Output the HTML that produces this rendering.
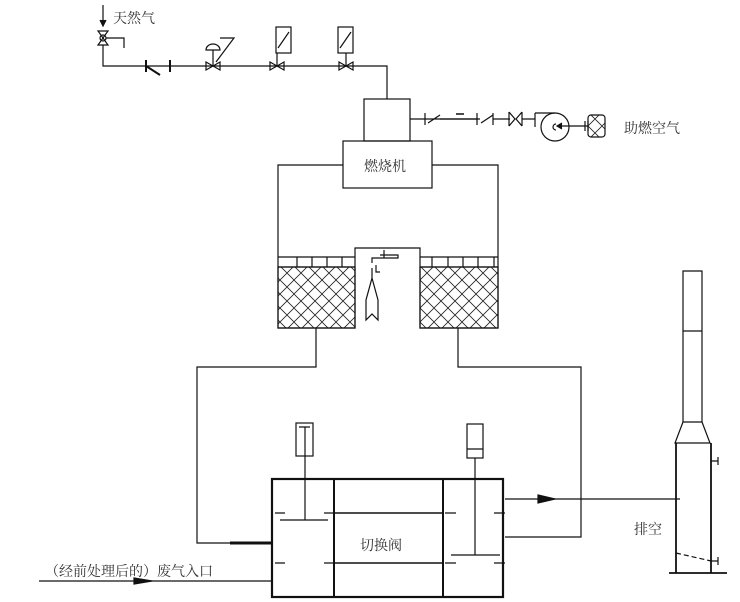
<!DOCTYPE html>
<html><head><meta charset="utf-8"><style>html,body{margin:0;padding:0;background:#fff}svg{display:block}</style></head>
<body>
<svg width="740" height="602" viewBox="0 0 740 602" xmlns="http://www.w3.org/2000/svg" font-family="Liberation Serif, Noto Serif CJK SC, serif">
<defs>
<pattern id="h" width="14" height="14" patternUnits="userSpaceOnUse">
<path d="M0 0L14 14M14 0L0 14" stroke="#222" stroke-width="0.8" fill="none"/>
</pattern>
</defs>
<g stroke="#111" fill="none" stroke-width="1.2">
<path d="M103 5V26"/><path d="M100 20L103 26L106 20" fill="#111"/>
<path d="M98 31L108 31L98 45L108 45Z"/><circle cx="103" cy="38" r="3"/>
<path d="M106 38H124V48"/>
<path d="M103 45V66H387V99"/>
<path d="M146 60V72M170 60V72M146 66L160 75" stroke-width="2"/>
<path d="M206 62L220 70V62L206 70Z"/>
<path d="M213 66V50M206 50A7 6 0 0 1 220 50Z M220 38H234L216 62"/>
<path d="M270 62L284 70V62L270 70Z M277 66V53"/>
<rect x="276" y="27" width="15" height="26"/><path d="M278 48L289 32"/>
<path d="M339 62L353 70V62L339 70Z M346 66V53"/>
<rect x="338" y="27" width="15" height="26"/><path d="M340 48L351 32"/>
<rect x="364" y="99" width="46" height="42"/>
<rect x="343" y="141" width="89" height="47"/>
<path d="M410 119H480M425 113V125M428 123L440 115"/>
<path d="M440 119H478M477 113V125M481 123L493 115M493 113V125"/>
<path d="M456 114H464" stroke-width="1.5"/>
<path d="M493 119H510M509 112V126M522 112V126M509 112L515 119L509 126M522 112L516 119L522 126M522 119H535"/>
<path d="M535 113V127M535 113H555"/>
<circle cx="555" cy="127" r="14"/>
<path d="M556 124A3 3 0 1 0 556 130"/>
<path d="M573 126H557M562 123L557 126L562 129" fill="#111"/>
<path d="M585 121V131M588 121V131M573 126H588"/>
<rect x="588" y="115" width="17" height="22" rx="3" fill="url(#h)"/>
<path d="M343 165H278V328H355V248H420V328H498V165H432"/>
<rect x="278" y="267" width="77" height="61" fill="url(#h)"/>
<rect x="420" y="267" width="78" height="61" fill="url(#h)"/>
<path d="M278 257H355M420 257H498M278 267H355M420 267H498"/>
<path d="M297 257V267M312 257V267M327 257V267M342 257V267M432 257V267M448 257V267M463 257V267M478 257V267M494 257V267"/>
<path d="M384 250V258H372V263M380 255H398V258H380M376 265V272H380M372 268V278L366 300V320L372 314L378 320V300L372 278"/>
<path d="M316 328V367H197V543H230"/>
<path d="M230 543H272" stroke-width="3"/>
<path d="M458 328V367H581V537H505"/>
<rect x="272" y="479" width="231" height="118" stroke-width="2.2"/>
<path d="M334 479V597M443 479V597" stroke-width="2"/>
<path d="M334 513H443M334 563H443" stroke-width="1.5"/>
<path d="M275 513H285M324 513H334M275 563H285M324 563H334M445 513H456M494 513H505M445 563H456M494 563H505"/>
<rect x="296" y="423" width="17" height="33"/><path d="M299 427H310M305 427V520M280 520H328"/>
<rect x="467" y="424" width="16" height="34"/><path d="M467 449H483M475 458V555M451 555H500"/>
<path d="M505 499H680"/>
<path d="M538 495L555 499L538 503Z" fill="#111"/>
<path d="M39 581H272"/>
<path d="M134 578L152 581L134 584Z" fill="#111"/>
<path d="M683 271H702V422H683Z M683 331H702"/>
<path d="M683 422L675 443H710L702 422"/>
<path d="M676 443V573M711 443V573M669 573H727" stroke-width="1.8"/>
<path d="M711 461H718M718 457V465M711 561H718M718 557V565"/>
<path d="M676 553L711 561" stroke-dasharray="5 3"/>
</g>
<g fill="#333" font-size="14">
<text x="113" y="23">天然气</text>
<text x="624" y="133">助燃空气</text>
<text x="364" y="171">燃烧机</text>
<text x="360" y="550">切换阀</text>
<text x="634" y="534">排空</text>
<text x="45" y="576">（经前处理后的）废气入口</text>
</g>
</svg>
</body></html>
